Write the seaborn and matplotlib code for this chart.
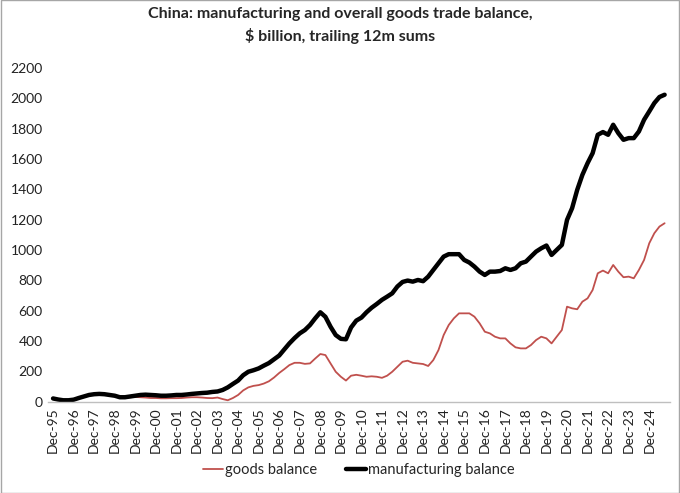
import pandas as pd
import numpy as np
import matplotlib
matplotlib.use("Agg")
import matplotlib.pyplot as plt
import seaborn as sns

# quarterly readings, Dec-95 .. Sep-25 ($ billion, trailing 12m sums)
quarters = pd.date_range("1995-12-31", "2025-09-30", freq="QE-DEC")

manufacturing = [
    22,
    15, 10, 10, 14,
    25, 35, 45, 50,
    52, 50, 45, 40,
    30, 30, 35, 40,
    45, 47, 45, 43,
    40, 40, 42, 45,
    45, 48, 52, 55,
    58, 60, 65, 68,
    78, 95, 118, 140,
    175, 198, 208, 220,
    238, 255, 280, 305,
    345, 385, 420, 451,
    473, 506, 550, 590,
    560, 495, 440, 415,
    412, 490, 535, 555,
    590, 620, 645, 672,
    693, 715, 760, 790,
    799, 792, 803, 795,
    825, 869, 913, 957,
    973, 973, 973, 935,
    918, 891, 858, 836,
    858, 858, 862, 880,
    869, 880, 913, 924,
    957, 990, 1012, 1030,
    968, 1001, 1034, 1199,
    1276, 1397, 1496, 1573,
    1639, 1760, 1778, 1760,
    1826, 1771, 1727, 1738,
    1738, 1782, 1859, 1914,
    1969, 2009, 2024,
]

goods = [
    18,
    12, 8, 10, 14,
    24, 34, 44, 48,
    50, 48, 44, 40,
    30, 28, 30, 32,
    30, 28, 25, 25,
    23, 23, 24, 24,
    25, 28, 30, 30,
    28, 25, 24, 28,
    18, 10, 25, 45,
    75, 95, 105, 110,
    120, 135, 160, 190,
    215, 242, 257, 257,
    250, 253, 285, 315,
    308, 253, 198, 165,
    140, 172, 178, 172,
    165, 168, 165, 158,
    172, 198, 231, 264,
    271, 257, 253, 249,
    236, 275, 341, 440,
    506, 550, 583, 583,
    583, 561, 517, 462,
    451, 429, 418, 418,
    385, 359, 352, 352,
    374, 407, 429, 418,
    385, 429, 473, 627,
    616, 610, 660, 682,
    737, 847, 865, 847,
    902, 858, 821, 825,
    814, 869, 935, 1045,
    1111, 1155, 1177,
]

series_names = ["goods balance", "manufacturing balance"]
y_ticks = list(range(0, 2201, 200))
x_tick_years = list(range(1995, 2025))

df = pd.DataFrame({
    "date": np.concatenate([quarters, quarters]),
    "value": goods + manufacturing,
    "series": [series_names[0]] * len(goods) + [series_names[1]] * len(manufacturing),
})

sns.set_style("white")
plt.rcParams["font.family"] = ["Lato", "DejaVu Sans"]

fig = plt.figure(figsize=(6.8, 4.93), dpi=100)
ax = fig.add_axes([0.070, 0.185, 0.915, 0.677])

sns.lineplot(
    data=df, x="date", y="value", hue="series", size="series",
    hue_order=series_names, size_order=series_names,
    palette={"goods balance": "#C0504D", "manufacturing balance": "black"},
    sizes={"goods balance": 1.3, "manufacturing balance": 3.2},
    ax=ax, legend=True,
)

ax.set_ylim(0, 2200)
ax.set_yticks(y_ticks)
ax.set_xlim(pd.Timestamp("1995-09-25"), pd.Timestamp("2025-12-31"))
tick_dates = [pd.Timestamp(f"{y}-12-31") for y in x_tick_years]
ax.set_xticks(tick_dates)
ax.set_xticklabels([f"Dec-{str(y)[2:]}" for y in x_tick_years], rotation=90)
ax.tick_params(axis="both", labelsize=10, length=0, colors="#222222")
ax.tick_params(axis="x", pad=4)
ax.set_xlabel("")
ax.set_ylabel("")

for side in ["top", "right", "left"]:
    ax.spines[side].set_visible(False)
ax.spines["bottom"].set_color("#BFBFBF")
ax.spines["bottom"].set_linewidth(1.0)

handles, labels = ax.get_legend_handles_labels()
ax.legend(handles, labels, loc="lower center", bbox_to_anchor=(0.5, -0.265),
          ncol=2, frameon=False, fontsize=10.5, handlelength=1.4,
          handletextpad=0.1, columnspacing=2.0)

fig.suptitle("China: manufacturing and overall goods trade balance,\n$ billion, trailing 12m sums",
             fontsize=11.5, fontweight="bold", y=0.985, linespacing=1.5)

# figure border
fig.patches.append(plt.Rectangle((0.001, 0.001), 0.998, 0.998, transform=fig.transFigure,
                                 fill=False, edgecolor="#A6A6A6", linewidth=1.0))

fig.savefig("out.png", dpi=100)
